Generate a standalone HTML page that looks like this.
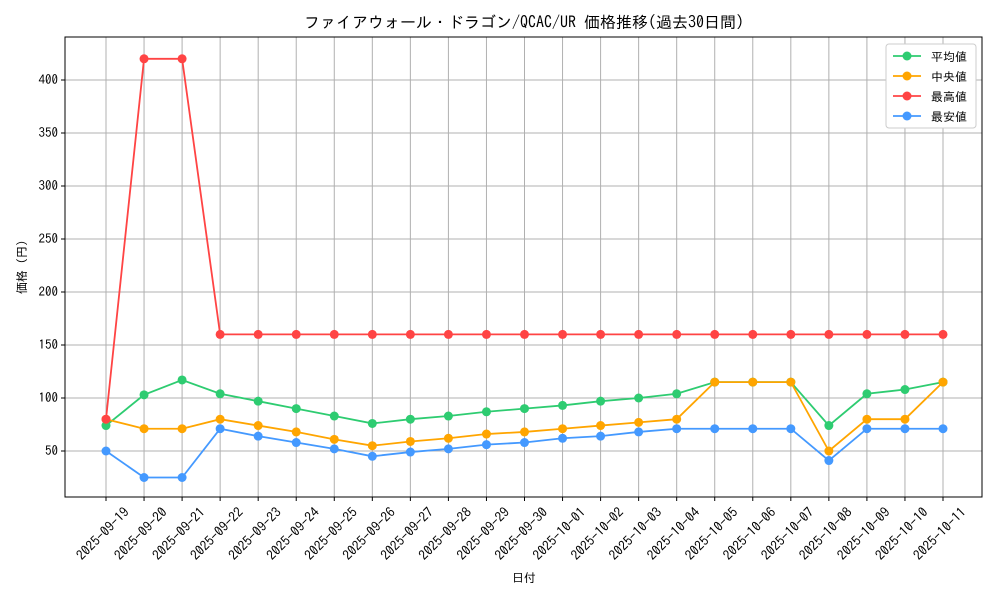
<!DOCTYPE html>
<html><head><meta charset="utf-8"><style>
body{margin:0;background:#fff;}
svg text{font-family:"IPAGothic","Noto Sans CJK JP",monospace;fill:#000;}
</style></head><body>
<svg id="chart" width="1000" height="600" xmlns="http://www.w3.org/2000/svg"></svg>
<script>
const dates=["2025-09-19","2025-09-20","2025-09-21","2025-09-22","2025-09-23","2025-09-24","2025-09-25","2025-09-26","2025-09-27","2025-09-28","2025-09-29","2025-09-30","2025-10-01","2025-10-02","2025-10-03","2025-10-04","2025-10-05","2025-10-06","2025-10-07","2025-10-08","2025-10-09","2025-10-10","2025-10-11"];
const avgVals=[74,103,117,104,97,90,83,76,80,83,87,90,93,97,100,104,115,115,115,74,104,108,115];
const medVals=[80,71,71,80,74,68,61,55,59,62,66,68,71,74,77,80,115,115,115,50,80,80,115];
const maxVals=[80,420,420,160,160,160,160,160,160,160,160,160,160,160,160,160,160,160,160,160,160,160,160];
const minVals=[50,25,25,71,64,58,52,45,49,52,56,58,62,64,68,71,71,71,71,41,71,71,71];
const yTicks=[50,100,150,200,250,300,350,400];
const seriesNames=["平均値","中央値","最高値","最安値"];
const colors=["#2ecc71","#ffa500","#ff4444","#4499ff"];
const NS="http://www.w3.org/2000/svg";
const svg=document.getElementById('chart');
const L=65,R=982,T=37,B=497;
const xS=i=>106+i*(943-106)/(dates.length-1);
const yS=v=>504-v*1.06;
function mk(tag,attrs,parent){const e=document.createElementNS(NS,tag);for(const k in attrs)e.setAttribute(k,attrs[k]);(parent||svg).appendChild(e);return e;}
dates.forEach((d,i)=>{
 const g=mk('line',{x1:xS(i),x2:xS(i),y1:T,y2:B,stroke:'#b0b0b0','stroke-width':1});
 
 
 mk('line',{x1:xS(i),x2:xS(i),y1:B,y2:B+4,stroke:'#000'});
 const t=mk('text',{x:0,y:0,'font-size':13.5,'text-anchor':'middle',transform:`translate(${xS(i)},${B+40}) rotate(-45)`});
 t.textContent=d;
 
 
});
yTicks.forEach(v=>{
 const g=mk('line',{x1:L,x2:R,y1:yS(v),y2:yS(v),stroke:'#b0b0b0','stroke-width':1});
 
 
 mk('line',{x1:L-4,x2:L,y1:yS(v),y2:yS(v),stroke:'#000'});
 const t=mk('text',{x:L-7,y:yS(v)+4,'font-size':13,'text-anchor':'end'});
 t.textContent=v;
 
 
});
const frame=mk('rect',{x:L,y:T,width:R-L,height:B-T,fill:'none',stroke:'#000'});


[avgVals,medVals,maxVals,minVals].forEach((vals,s)=>{
 const p=mk('polyline',{points:vals.map((v,i)=>xS(i)+','+yS(v)).join(' '),fill:'none',stroke:colors[s],'stroke-width':1.8});
 
 
 vals.forEach((v,i)=>{
  const c=mk('circle',{cx:xS(i),cy:yS(v),r:4.5,fill:colors[s]});
  
  
 });
});
const lg=mk('rect',{x:886,y:44,width:90,height:84,fill:'#fff',stroke:'#ccc',rx:3});


seriesNames.forEach((n,s)=>{
 const y=56+s*20;
 mk('line',{x1:893,x2:921,y1:y,y2:y,stroke:colors[s],'stroke-width':1.8});
 mk('circle',{cx:907,cy:y,r:4.5,fill:colors[s]});
 const t=mk('text',{x:931,y:y+5,'font-size':12});
 t.textContent=n;
 
 
});
const title=mk('text',{x:524,y:28,'font-size':16,'text-anchor':'middle'});
title.textContent="ファイアウォール・ドラゴン/QCAC/UR 価格推移(過去30日間)";


const xt=mk('text',{x:524,y:582,'font-size':12,'text-anchor':'middle'});
xt.textContent="日付";


const yt=mk('text',{x:0,y:0,'font-size':12,'text-anchor':'middle',transform:'translate(26,267) rotate(-90)'});
yt.textContent="価格 (円)";


</script>
</body></html>
